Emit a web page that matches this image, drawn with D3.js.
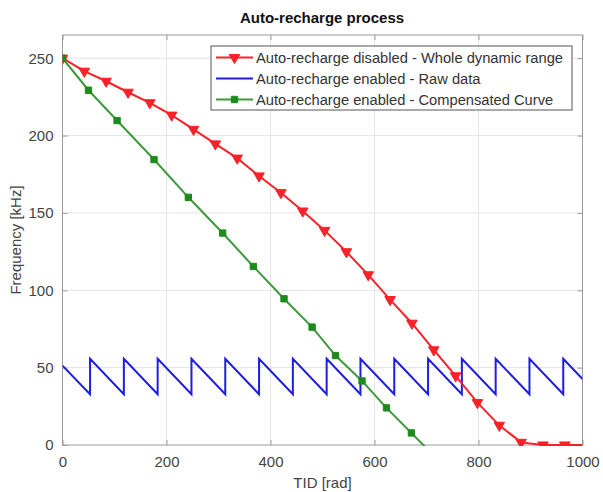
<!DOCTYPE html>
<html>
<head>
<meta charset="utf-8">
<title>Auto-recharge process</title>
<script src="https://cdn.jsdelivr.net/npm/d3@7/dist/d3.min.js"></script>
<style>
    body { margin: 0; background: #fff; }
    text { font-family: "Liberation Sans", Arial, sans-serif; }
</style>
</head>
<body>
<div id="chart"></div>
<script>
// TID [rad] / Frequency [kHz]
var redX = [0, 42, 84, 126, 168, 210, 252, 294, 336, 378, 420, 462, 504, 546, 588, 630, 672, 714, 756, 798, 840, 882, 924, 966, 1000];
var redY = [250, 241.6, 235.1, 228, 221.2, 213.2, 204, 194.6, 185.4, 173.9, 163.1, 151.2, 138.7, 124.9, 110, 94, 78.7, 61.5, 44.7, 27.4, 12.7, 1.7, 0, 0, 0];
var redMarked = [1, 1, 1, 1, 1, 1, 1, 1, 1, 1, 1, 1, 1, 1, 1, 1, 1, 1, 1, 1, 1, 1, 1, 1, 0];

var blueX = [0, 53, 53, 118, 118, 183, 183, 248, 248, 313, 313, 378, 378, 443, 443, 508, 508, 573, 573, 638, 638, 703, 703, 768, 768, 833, 833, 898, 898, 963, 963, 1000];
var blueY = [51.3, 32.8, 55.7, 32.8, 55.7, 32.8, 55.7, 32.8, 55.7, 32.8, 55.7, 32.8, 55.7, 32.8, 55.7, 32.8, 55.7, 32.8, 55.7, 32.8, 55.7, 32.8, 55.7, 32.8, 55.7, 32.8, 55.7, 32.8, 55.7, 32.8, 55.7, 42.7];

var greenX = [0, 50, 105, 176, 242, 308, 367, 426, 480, 525, 576, 623, 671, 720];
var greenY = [250, 229.3, 209.7, 184.5, 160.1, 137, 115.4, 94.5, 76.2, 57.8, 41.4, 24, 7.8, -8.9];

var xTicks = [0, 200, 400, 600, 800, 1000];
var yTicks = [0, 50, 100, 150, 200, 250];

var legendLabels = [
    "Auto-recharge disabled - Whole dynamic range",
    "Auto-recharge enabled - Raw data",
    "Auto-recharge enabled - Compensated Curve"
];

var W = 603, H = 492;
var margin = {left: 62.5, right: 20.5, top: 35, bottom: 47};
var w = W - margin.left - margin.right;
var h = H - margin.top - margin.bottom;

var RED = "#fb2128", BLUE = "#1e1ee0", GREEN = "#3c9a3c", GREEN_M = "#1d8a1d";

var svg = d3.select("#chart").append("svg")
    .attr("width", W).attr("height", H);

var x = d3.scaleLinear().domain([0, 1000]).range([0, w]);
var y = d3.scaleLinear().domain([0, 265]).range([h, 0]);

var g = svg.append("g").attr("transform", "translate(" + margin.left + "," + margin.top + ")");

g.append("defs").append("clipPath").attr("id", "clip")
  .append("rect").attr("width", w).attr("height", h + 2).attr("y", -1);

// grid
g.selectAll(".gx").data(xTicks.slice(1, -1)).enter().append("line")
    .attr("x1", d => x(d)).attr("x2", d => x(d)).attr("y1", 0).attr("y2", h)
    .attr("stroke", "#e4e4e4");
g.selectAll(".gy").data(yTicks.slice(1)).enter().append("line")
    .attr("y1", d => y(d)).attr("y2", d => y(d)).attr("x1", 0).attr("x2", w)
    .attr("stroke", "#e4e4e4");

// axes (MATLAB style, ticks inside)
var axisColor = "#9a9a9a";
function styleAxis(sel) {
    sel.select(".domain").remove();
    sel.selectAll(".tick line").attr("stroke", axisColor);
    sel.selectAll(".tick text").attr("fill", "#444").style("font-size", "15px");
}
g.append("g").attr("transform", "translate(0," + h + ")")
    .call(d3.axisBottom(x).tickValues(xTicks).tickFormat(d3.format("d")).tickSizeInner(-5).tickPadding(11))
    .call(styleAxis);
g.append("g")
    .call(d3.axisLeft(y).tickValues(yTicks).tickSizeInner(-5).tickPadding(9))
    .call(styleAxis);
g.append("g")
    .call(d3.axisTop(x).tickValues(xTicks).tickSizeInner(-5).tickFormat(""))
    .call(styleAxis);
g.append("g").attr("transform", "translate(" + w + ",0)")
    .call(d3.axisRight(y).tickValues(yTicks).tickSizeInner(-5).tickFormat(""))
    .call(styleAxis);

g.append("rect").attr("width", w).attr("height", h)
    .attr("fill", "none").attr("stroke", axisColor).attr("stroke-width", 1);

var plot = g.append("g").attr("clip-path", "url(#clip)");
var line = d3.line().x(d => x(d[0])).y(d => y(d[1]));

var tri = d3.symbol().type(d3.symbolTriangle).size(48);
var sq = d3.symbol().type(d3.symbolSquare).size(40);

// blue raw data
plot.append("path").datum(d3.zip(blueX, blueY)).attr("d", line)
    .attr("fill", "none").attr("stroke", BLUE).attr("stroke-width", 2);

// red
plot.append("path").datum(d3.zip(redX, redY)).attr("d", line)
    .attr("fill", "none").attr("stroke", RED).attr("stroke-width", 2);
plot.selectAll(".rm").data(d3.zip(redX, redY).filter((d, i) => redMarked[i])).enter()
  .append("path")
    .attr("d", tri)
    .attr("transform", d => "translate(" + x(d[0]) + "," + y(d[1]) + ") rotate(180)")
    .attr("fill", RED).attr("stroke", RED);

// green
plot.append("path").datum(d3.zip(greenX, greenY)).attr("d", line)
    .attr("fill", "none").attr("stroke", GREEN).attr("stroke-width", 2);
plot.selectAll(".gm").data(d3.zip(greenX, greenY)).enter()
  .append("path")
    .attr("d", sq)
    .attr("transform", d => "translate(" + x(d[0]) + "," + y(d[1]) + ")")
    .attr("fill", GREEN_M).attr("stroke", GREEN_M);

// title and labels
svg.append("text").attr("x", 322).attr("y", 23).attr("text-anchor", "middle")
    .style("font-size", "15px").style("font-weight", "bold").attr("fill", "#111")
    .text("Auto-recharge process");
svg.append("text").attr("x", margin.left + w / 2).attr("y", 488).attr("text-anchor", "middle")
    .style("font-size", "15px").attr("fill", "#444").text("TID [rad]");
svg.append("text").attr("transform", "translate(21," + (margin.top + h / 2) + ") rotate(-90)")
    .attr("text-anchor", "middle").style("font-size", "15px").attr("fill", "#444")
    .text("Frequency [kHz]");

// legend
var lg = svg.append("g").attr("transform", "translate(211,46)");
lg.append("rect").attr("width", 361).attr("height", 64)
    .attr("fill", "#fff").attr("stroke", "#555").attr("stroke-width", 1);
var colors = [RED, BLUE, GREEN];
legendLabels.forEach(function(lab, i) {
    var yy = 11.5 + i * 21;
    lg.append("line").attr("x1", 5).attr("x2", 42).attr("y1", yy).attr("y2", yy)
        .attr("stroke", colors[i]).attr("stroke-width", 2);
    if (i === 0) {
        lg.append("path").attr("d", tri)
            .attr("transform", "translate(23.5," + yy + ") rotate(180)")
            .attr("fill", RED).attr("stroke", RED);
    } else if (i === 2) {
        lg.append("path").attr("d", sq)
            .attr("transform", "translate(23.5," + yy + ")")
            .attr("fill", GREEN_M).attr("stroke", GREEN_M);
    }
    lg.append("text").attr("x", 45).attr("y", yy + 5)
        .style("font-size", "14.7px").attr("fill", "#333").text(lab);
});
</script>
</body>
</html>
